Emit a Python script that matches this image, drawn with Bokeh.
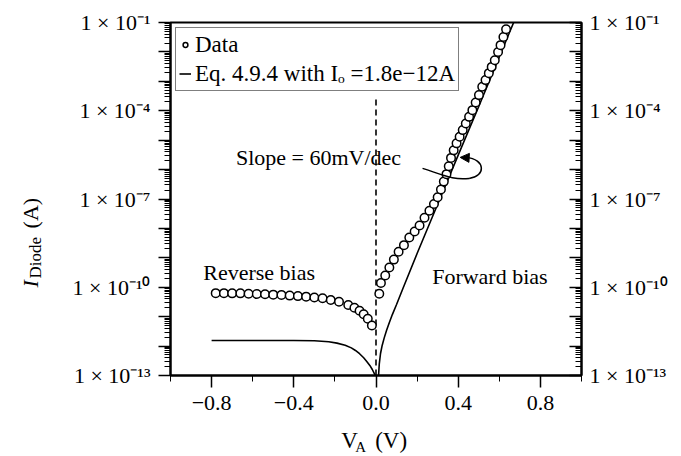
import math
from bokeh.plotting import figure
from bokeh.models import (LogAxis, FixedTicker, CustomJSTickFormatter, Label, Legend,
                          LegendItem, Arrow, NormalHead, Range1d, ColumnDataSource)
from bokeh.embed import file_html
from bokeh.resources import INLINE

# ---------------- data ----------------
rev_v = [-0.78, -0.74, -0.70, -0.66, -0.62, -0.58, -0.54, -0.50, -0.46, -0.42, -0.38,
         -0.34, -0.30, -0.26, -0.22, -0.18, -0.135, -0.105, -0.08, -0.06, -0.04, -0.02]
rev_i = [6.3e-11, 6.3e-11, 6.2e-11, 6.2e-11, 6.0e-11, 5.9e-11, 5.8e-11, 5.6e-11, 5.5e-11,
         5.2e-11, 5.0e-11, 4.8e-11, 4.5e-11, 4.2e-11, 3.7e-11, 3.2e-11, 2.5e-11, 2.0e-11,
         1.6e-11, 1.2e-11, 8.5e-12, 5.0e-12]

fwd_v = [0.016, 0.024, 0.045, 0.065, 0.087, 0.110, 0.136, 0.162, 0.188, 0.212,
         0.236, 0.260, 0.282, 0.300, 0.316, 0.330, 0.343, 0.354, 0.365, 0.378,
         0.392, 0.407, 0.422, 0.437, 0.453, 0.469, 0.485, 0.501, 0.517, 0.533,
         0.549, 0.563, 0.578, 0.594, 0.606, 0.620, 0.633]
fwd_i = [6.0e-11, 1.4e-10, 2.5e-10, 4.7e-10, 8.7e-10, 1.6e-9, 2.7e-9, 4.9e-9, 7.9e-9, 1.26e-8,
         2.3e-8, 4.0e-8, 6.8e-8, 1.15e-7, 2.1e-7, 3.9e-7, 7.0e-7, 1.3e-6, 2.5e-6, 4.5e-6,
         7.8e-6, 1.3e-5, 2.2e-5, 3.7e-5, 6.2e-5, 1.05e-4, 1.9e-4, 3.4e-4, 6.5e-4, 1.1e-3,
         1.9e-3, 3.1e-3, 5.2e-3, 1.0e-2, 1.7e-2, 3.2e-2, 5.9e-2]

# Eq. 4.9.4 curve as drawn (reverse branch magnitude and forward branch)
eq_rev_v = [-0.80, -0.60, -0.40, -0.30, -0.23, -0.19, -0.15, -0.12, -0.10, -0.08, -0.06,
            -0.045, -0.03, -0.018, -0.008, -0.003]
eq_rev_i = [1.55e-12, 1.55e-12, 1.55e-12, 1.51e-12, 1.41e-12, 1.26e-12, 1.07e-12, 8.7e-13,
            7.1e-13, 5.5e-13, 4.0e-13, 3.0e-13, 2.2e-13, 1.6e-13, 1.15e-13, 1.0e-13]
eq_fwd_v = [0.012, 0.016, 0.022, 0.030, 0.040, 0.052, 0.065, 0.080, 0.100, 0.130,
            0.200, 0.300, 0.400, 0.500, 0.600, 0.700]
eq_fwd_i = [8.9e-14, 2.5e-13, 5.6e-13, 1.05e-12, 1.9e-12, 3.5e-12, 6.3e-12, 1.2e-11, 2.6e-11,
            8.7e-11, 1.4e-9, 6.6e-8, 3.1e-6, 1.4e-4, 6.8e-3, 3.2e-1]

divider_v = [0.0, 0.0]
divider_i = [1e-13, 3e-4]

x_major = [-0.8, -0.4, 0.0, 0.4, 0.8]
x_minor = [-1.0, -0.6, -0.2, 0.2, 0.6, 1.0]
y_decades = [10.0 ** e for e in range(-13, 0)]
y_minor = [m * 10.0 ** e for e in range(-13, -1) for m in range(2, 10)]

FONT = "Liberation Serif"
W, H = 681, 456

# ---------------- figure ----------------
p = figure(width=W, height=H, x_range=Range1d(-1.0, 1.0), y_range=Range1d(1e-13, 1e-1),
           y_axis_type="log", output_backend="svg", toolbar_location=None,
           min_border_left=168, min_border_right=W - 583, min_border_top=22,
           min_border_bottom=H - 375)
p.xgrid.visible = False
p.ygrid.visible = False
p.outline_line_color = "black"
p.outline_line_width = 2
p.background_fill_color = "white"
p.border_fill_color = "white"


def px_v(px):
    return (px - 376.0) / 207.5


def py_i(py):
    return 10.0 ** (-13.0 + (375.0 - py) / 29.4)


sup_fmt = CustomJSTickFormatter(code="""
const e = Math.round(Math.log10(tick));
if (((e % 3) + 3) % 3 != 2) { return ''; }
const m = {'-':'\u207b','0':'\u2070','1':'\u00b9','2':'\u00b2','3':'\u00b3','4':'\u2074',
           '5':'\u2075','6':'\u2076','7':'\u2077','8':'\u2078','9':'\u2079'};
return '1 \u00d7 10' + String(e).split('').map(c => m[c]).join('');
""")

# left axis
ya = p.yaxis[0]
ya.ticker = FixedTicker(ticks=y_decades, minor_ticks=y_minor)
ya.formatter = sup_fmt
ya.major_tick_out = 12
ya.major_tick_in = 0
ya.minor_tick_out = 6
ya.minor_tick_in = 0
ya.axis_line_width = 2
ya.major_tick_line_width = 1.5
ya.major_label_standoff = 8
ya.major_label_text_font = FONT
ya.major_label_text_font_size = "22px"
ya.major_label_text_color = "black"

# right axis
ra = LogAxis(ticker=FixedTicker(ticks=y_decades, minor_ticks=y_minor), formatter=sup_fmt)
ra.major_tick_out = 0
ra.major_tick_in = 12
ra.minor_tick_out = 0
ra.minor_tick_in = 6
ra.axis_line_width = 2
ra.major_tick_line_width = 1.5
ra.major_label_standoff = 8
ra.major_label_text_font = FONT
ra.major_label_text_font_size = "22px"
ra.major_label_text_color = "black"
p.add_layout(ra, "right")

# bottom axis
xa = p.xaxis[0]
xa.ticker = FixedTicker(ticks=x_major, minor_ticks=x_minor)
xa.formatter = CustomJSTickFormatter(code="""
return (tick < -1e-9 ? '\u2212' : '') + Math.abs(tick).toFixed(1);
""")
xa.major_tick_out = 12
xa.major_tick_in = 0
xa.minor_tick_out = 6
xa.minor_tick_in = 0
xa.axis_line_width = 2
xa.major_tick_line_width = 1.5
xa.major_label_standoff = 8
xa.major_label_text_font = FONT
xa.major_label_text_font_size = "22px"
xa.major_label_text_color = "black"

# ---------------- glyphs ----------------
p.line(divider_v, divider_i, line_color="black", line_width=1.6, line_dash="6 4")
eq_r = p.line(eq_rev_v, eq_rev_i, line_color="black", line_width=1.6)
eq_f = p.line(eq_fwd_v, eq_fwd_i, line_color="black", line_width=1.6)

src = ColumnDataSource(dict(v=rev_v + fwd_v, i=rev_i + fwd_i))
sc = p.scatter("v", "i", source=src, marker="circle", size=8.5, line_color="black",
               line_width=1.5, fill_color="white")

# ---------------- annotations ----------------
def mk(x, y, s, size="22px", align="center", baseline="middle", angle=0.0, style="normal"):
    return Label(x=x, y=y, text=s, text_font=FONT, text_font_size=size,
                 text_align=align, text_baseline=baseline, angle=angle,
                 angle_units="rad", text_font_style=style, text_color="black")

p.add_layout(mk(px_v(258), py_i(272), "Reverse bias"))
p.add_layout(mk(px_v(491), py_i(276), "Forward bias"))
p.add_layout(mk(px_v(318), py_i(157), "Slope = 60mV/dec"))

# x axis title V_A(V): side-panel labels so they are not clipped to the frame
p.add_layout(mk(px_v(341), py_i(440), "V\u00a0\u00a0\u00a0(V)", size="23px", align="left"), "below")
p.add_layout(mk(px_v(355), py_i(446), "A", size="15px", align="left"), "right")

# y axis title I_Diode (A)
half_pi = math.pi / 2
p.add_layout(mk(px_v(27), py_i(287), "I", size="22px", align="left",
                angle=half_pi, style="italic"), "left")
p.add_layout(mk(px_v(32), py_i(278), "Diode", size="17px", align="left",
                angle=half_pi), "left")
p.add_layout(mk(px_v(27), py_i(228), "(A)", size="22px", align="left",
                angle=half_pi), "left")

# curved arrow pointing at the slope
p.bezier(x0=[px_v(423)], y0=[py_i(168)], x1=[px_v(470)], y1=[py_i(178)],
         cx0=[px_v(445)], cy0=[py_i(175)], cx1=[px_v(455)], cy1=[py_i(180)],
         line_color="black", line_width=1.5)
p.bezier(x0=[px_v(470)], y0=[py_i(178)], x1=[px_v(467)], y1=[py_i(157)],
         cx0=[px_v(487)], cy0=[py_i(176)], cx1=[px_v(487)], cy1=[py_i(159)],
         line_color="black", line_width=1.5)
p.add_layout(Arrow(end=NormalHead(size=9, fill_color="black", line_color="black"),
                   x_start=px_v(470), y_start=py_i(157.5), x_end=px_v(461), y_end=py_i(157),
                   line_width=1.5, line_color="black"))

# legend
legend = Legend(items=[LegendItem(label="Data", renderers=[sc]),
                       LegendItem(label="Eq. 4.9.4 with I\u2092 =1.8e\u221212A", renderers=[eq_f])],
                location="top_left")
legend.border_line_color = "black"
legend.border_line_width = 1.5
legend.background_fill_alpha = 1.0
legend.label_text_font = FONT
legend.label_text_font_size = "23px"
legend.label_text_color = "black"
legend.padding = 3
legend.spacing = 2
legend.margin = 5
legend.glyph_width = 12
legend.glyph_height = 27
legend.label_height = 27
legend.label_standoff = 4
p.add_layout(legend)

open("out.html", "w").write(file_html(p, INLINE))
